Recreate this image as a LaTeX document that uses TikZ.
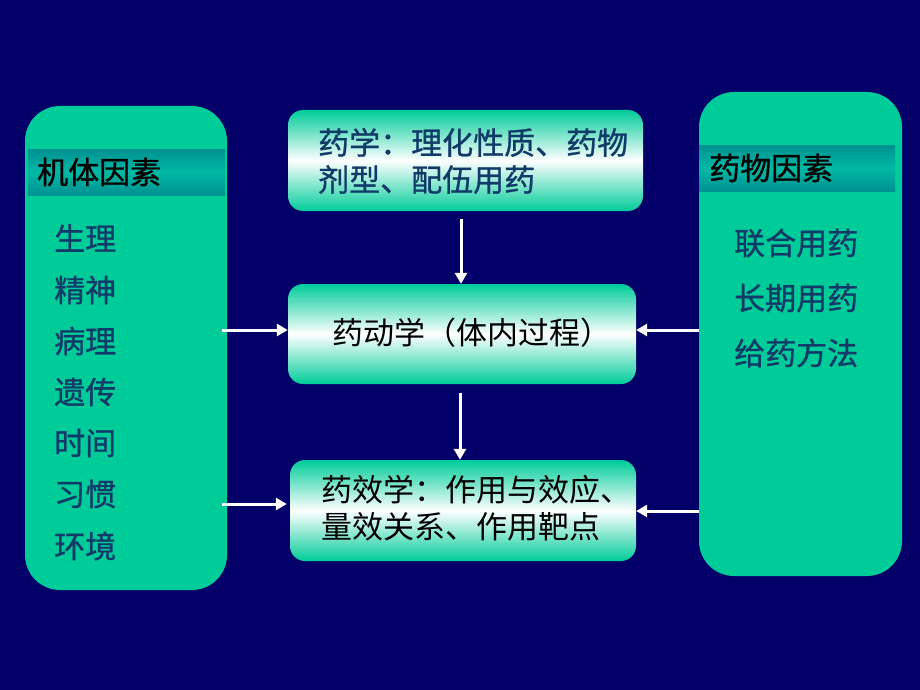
\documentclass[tikz,border=0pt]{standalone}
\usepackage{fontspec}
\newfontfamily\cjk{Noto Sans CJK SC}
\newfontfamily\cjkb{Noto Sans CJK SC}[FakeBold=0.9]
\usetikzlibrary{arrows.meta,calc}
\definecolor{bgnavy}{RGB}{2,0,104}
\definecolor{panelgreen}{RGB}{0,204,153}
\definecolor{bardark}{RGB}{0,145,145}
\definecolor{barmid}{RGB}{0,185,165}
\definecolor{txtblue}{RGB}{16,58,104}
\tikzset{
  panel/.style={fill=panelgreen, draw=none, rounded corners=35pt, inner sep=0pt},
  hbar/.style={top color=bardark, bottom color=bardark, middle color=barmid, draw=none, inner sep=0pt},
  cbox/.style={top color=panelgreen, bottom color=panelgreen, middle color=white, draw=none, rounded corners=15pt, inner sep=0pt},
  big/.style={font=\cjk\fontsize{31}{37}\selectfont},
  bigb/.style={font=\cjkb\fontsize{31}{37}\selectfont},
  item/.style={bigb, text=txtblue, anchor=west, inner sep=0pt},
  head/.style={bigb, text=black, anchor=west, inner sep=0pt},
  arr/.style={white, line width=3pt, -{Triangle[width=12pt,length=11pt]}},
}
\begin{document}
\begin{tikzpicture}[x=1pt,y=-1pt]
\fill[bgnavy] (0,0) rectangle (920,690);
\useasboundingbox (0,0) rectangle (920,690);

% left panel
\node[panel, minimum width=202pt, minimum height=484pt] (left) at (126,348) {};
\node[hbar, minimum width=197pt, minimum height=46pt] (lbar) at (126.5,172) {};
\node[head] (lhead) at (37,172) {机体因素};
\node[item] (l1) at (54,238) {生理};
\node[item] (l2) at (54,290) {精神};
\node[item] (l3) at (54,341) {病理};
\node[item] (l4) at (54,392) {遗传};
\node[item] (l5) at (54,443) {时间};
\node[item] (l6) at (54,494) {习惯};
\node[item] (l7) at (54,546) {环境};

% right panel
\node[panel, minimum width=203pt, minimum height=484pt] (right) at (800.5,334) {};
\node[hbar, minimum width=196pt, minimum height=46pt] (rbar) at (797,168) {};
\node[head] (rhead) at (709,168) {药物因素};
\node[item] (r1) at (734,243) {联合用药};
\node[item] (r2) at (734,298) {长期用药};
\node[item] (r3) at (734,353) {给药方法};

% centre boxes
\node[cbox, minimum width=355pt, minimum height=101pt] (top) at (465.5,160.5) {};
\node[bigb, text=txtblue, anchor=west, align=left, inner sep=0pt] (toptxt) at (318,161) {药学：理化性质、药物\\剂型、配伍用药};
\node[cbox, minimum width=348pt, minimum height=100pt] (mid) at (462,334) {};
\node[big, text=black, inner sep=0pt] (midtxt) at (472,333) {药动学（体内过程）};
\node[cbox, minimum width=346pt, minimum height=101pt] (bot) at (463,510.5) {};
\node[big, text=black, anchor=west, align=left, inner sep=0pt] (bottxt) at (321,508) {药效学：作用与效应、\\量效关系、作用靶点};

% arrows
\draw[arr] ([shift={(-4.5,8)}]top.south) -- ([xshift=-1pt]mid.north);
\draw[arr] ([shift={(-2,9)}]mid.south) -- ([xshift=-3pt]bot.north);
\draw[arr] ([shift={(-5,-4)}]left.east |- mid.west) -- ([yshift=4pt]mid.west);
\draw[arr] ([shift={(-5,-6.5)}]left.east |- bot.west) -- ([shift={(-3pt,6.5pt)}]bot.west);
\draw[arr] ([yshift=4pt]right.west |- mid.east) -- ([yshift=4pt]mid.east);
\draw[arr] ([yshift=-0.5pt]right.west |- bot.east) -- ([yshift=-0.5pt]bot.east);
\end{tikzpicture}
\end{document}
